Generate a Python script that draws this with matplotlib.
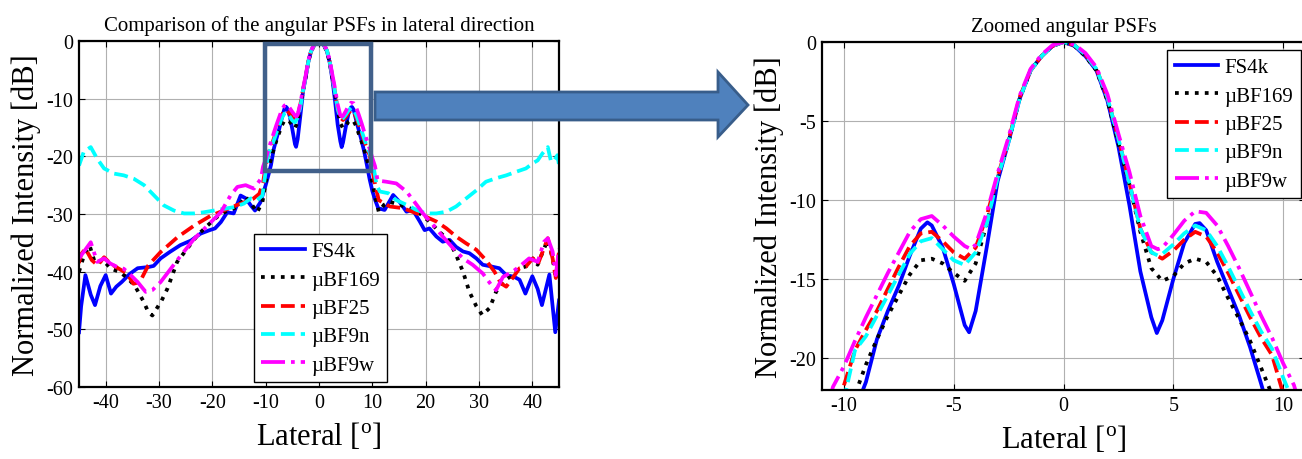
import matplotlib
matplotlib.use("Agg")
import matplotlib.pyplot as plt
from matplotlib.patches import Rectangle, Polygon

plt.rcParams['font.family'] = ['Liberation Serif', 'DejaVu Serif']
plt.rcParams['mathtext.fontset'] = 'custom'
plt.rcParams['mathtext.rm'] = 'Liberation Serif'
plt.rcParams['axes.unicode_minus'] = False

# ---------------- data (lateral angle [deg], normalized intensity [dB]) -------------
x_fs4k = [-45, -44.6, -43.8, -42.8, -42, -41, -40, -39, -38, -37, -35.5, -34, -32, -31,
          -29.7, -28, -26, -24, -22.2, -20.5, -19.5, -18.4, -17.2, -16, -14.7, -13.7,
          -12.8, -12, -11, -10.5, -10, -9.5,
          -9.0, -8.5, -8.0, -7.5, -7.0, -6.5, -6.2, -6.0, -5.5, -5.0, -4.5, -4.3, -4.0,
          -3.5, -3.0, -2.5, -2.0, -1.5, -1.0, -0.5, 0, 0.5, 1.0, 1.5, 2.0, 2.5, 3.0, 3.5,
          4.0, 4.25, 4.5, 5.0, 5.5, 6.0, 6.2, 6.5, 7.0, 7.5, 8.0, 8.5, 9.0, 9.5, 10, 10.5,
          11.1, 12.3, 13.9, 15.1, 16.4, 17.6, 18.9, 19.8, 20.7, 22, 23.2, 24.5, 25.7, 27,
          28.2, 29.5, 30.7, 32.3, 33.8, 35.1, 36.6, 37.6, 38.7, 40.0, 41.0, 41.8, 43.2,
          44.3, 45]
y_fs4k = [-50.5, -46, -40.6, -44, -45.8, -42.5, -40.6, -43.8, -42.6, -41.8, -40.4, -39.4,
          -39.2, -39.0, -37.7, -36.6, -35.4, -34.6, -33.4, -32.8, -32.5, -31.4, -29.7,
          -29.9, -26.8, -27.3, -28.5, -29.4, -28.0, -26.5, -25, -23.3,
          -21.5, -18.8, -17.0, -15.4, -13.5, -11.8, -11.4, -11.6, -13.0, -15.3, -17.9,
          -18.35, -17.0, -13.0, -8.8, -6.3, -3.6, -1.8, -0.9, -0.25, 0, -0.25, -0.9, -1.8,
          -3.7, -6.6, -10.3, -14.5, -17.4, -18.4, -17.6, -15.0, -12.7, -11.5, -11.45,
          -11.9, -13.9, -15.6, -17.3, -19.3, -21.6, -24, -26, -27.5,
          -29.0, -29.3, -26.7, -27.9, -29.6, -29.3, -31.3, -32.8, -32.5, -33.9, -34.8,
          -34.5, -35.7, -36.5, -36.8, -37.7, -38.8, -39.1, -39.4, -40.6, -40.9, -41.4,
          -43.8, -40.8, -43, -45.8, -40.5, -50.5, -45]

x_bf169 = [-45, -44, -43, -42, -40.5, -39, -37.5, -36, -34.5, -33, -32, -31.25, -30.5,
           -29.5, -28.4, -26.6, -24.7, -22.8, -20.9, -19.1, -17.2, -15.3, -13.75, -12.5,
           -11.6, -10.6, -10.0, -9.5,
           -9.0, -8.5, -8.0, -7.5, -7.0, -6.5, -6.0, -5.5, -5.0, -4.5, -4.0, -3.5, -3.0,
           -2.5, -2.0, -1.5, -1.0, -0.5, 0, 0.5, 1.0, 1.5, 2.0, 2.5, 3.0, 3.5, 4.0, 4.5,
           5.0, 5.5, 6.0, 6.5, 7.0, 7.5, 8.0, 8.5, 9.0, 9.5, 10.0, 10.5,
           11.2, 12.2, 13.3, 15.1, 17, 18.9, 20.7, 22.6, 24.5, 25.7, 27, 28.2, 29.5, 30.6,
           32, 33.2, 34.5, 36.3, 37.6, 38.8, 40.1, 41, 42.2, 42.9, 43.8, 44.4, 45]
y_bf169 = [-40, -37, -35.5, -38.5, -38, -39.5, -40, -41, -42.5, -45, -47, -47.6, -46.5,
           -45, -42.9, -38.3, -36, -33.7, -32, -30.5, -29.4, -28.8, -27, -28.5, -29.7,
           -27.9, -24.5, -22.3,
           -20.4, -18.8, -17.3, -16.0, -14.7, -13.8, -13.7, -14.0, -14.6, -15.1, -14.0,
           -11.5, -8.6, -6.3, -3.6, -1.8, -0.9, -0.25, 0, -0.25, -0.9, -1.8, -3.7, -6.4,
           -9.0, -12.0, -14.3, -15.1, -14.8, -14.0, -13.7, -13.9, -14.8, -16.2, -17.5,
           -18.9, -20.6, -22.3, -24.5, -26.8,
           -29.6, -28.4, -27.9, -28.4, -29, -29.9, -31.3, -33.1, -34.8, -37.1, -40, -43.5,
           -46, -47.5, -46.3, -43.5, -41.7, -40.6, -39.4, -39.1, -37.7, -38.8, -36,
           -34.5, -37.7, -41, -37]

x_bf25 = [-45, -44.6, -43.8, -42.6, -41.5, -40.3, -39.1, -37.5, -36, -34.8, -33.6, -32,
          -29.7, -26.5, -23.4, -20.3, -17.1, -14.7, -12.4, -11.2, -10.5,
          -10.0, -9.5, -9.0, -8.5, -8.0, -7.5, -7.0, -6.5, -6.0, -5.5, -5.0, -4.5, -4.0,
          -3.5, -3.0, -2.5, -2.0, -1.5, -1.0, -0.5, 0, 0.5, 1.0, 1.5, 2.0, 2.5, 3.0, 3.5,
          4.0, 4.5, 5.0, 5.5, 6.0, 6.5, 7.0, 7.5, 8.0, 8.5, 9.0, 9.5, 10.0, 10.5,
          11.2, 13.3, 15.8, 18.3, 20.1, 22, 23.9, 25.7, 27.6, 29.5, 31.3, 32.9, 34.1,
          35.1, 36.3, 37.6, 38.8, 40.1, 41, 42.2, 42.9, 43.8, 44.4, 45]
y_bf25 = [-38.5, -37, -36, -38, -38.9, -37.5, -38.6, -39.5, -40.3, -42.1, -41.8, -38.9,
          -36.6, -34, -32, -30.3, -29.1, -28.2, -27.4, -26.5, -24.6,
          -21.7, -19.5, -18.2, -17.0, -15.6, -14.2, -12.9, -12.1, -12.0, -12.6, -13.3,
          -13.7, -13.0, -11.0, -8.5, -6.2, -3.5, -1.8, -0.9, -0.25, 0, -0.2, -0.8, -1.7,
          -3.5, -6.1, -8.9, -11.8, -13.3, -13.7, -13.2, -12.5, -12.0, -12.3, -13.3,
          -14.6, -16.0, -17.4, -18.7, -19.8, -22.2, -24.8,
          -27.6, -28.7, -29, -29.9, -30.5, -31.3, -32.5, -33.9, -35.1, -36.2, -38, -40,
          -42, -42.6, -41.1, -39.4, -39.1, -37.7, -38.8, -35.9, -34.2, -37.7, -41.1,
          -36.5]

x_bf9n = [-45, -44.1, -42.8, -41.6, -40.3, -38.4, -36.6, -34.7, -32.8, -30.9, -29.1,
          -27.2, -25.3, -23.4, -21.6, -19.7, -17.8, -15.9, -14.1, -12.8, -11.6, -10.6,
          -10.0, -9.5, -9.0, -8.5, -8.0, -7.5, -7.0, -6.5, -6.0, -5.5, -5.0, -4.5, -4.0,
          -3.5, -3.0, -2.5, -2.0, -1.5, -1.0, -0.5, 0, 0.5, 1.0, 1.5, 2.0, 2.5, 3.0, 3.5,
          4.0, 4.3, 4.5, 5.0, 5.5, 6.0, 6.5, 7.0, 7.5, 8.0, 8.5, 9.0, 9.5, 10.0, 10.3,
          10.8, 11.4, 13, 14.5, 16.4, 18.3, 20.1, 22, 23.9, 25.7, 27.6, 29.5, 31.3, 33.2,
          35.1, 36.9, 38.8, 40.1, 41, 41.9, 42.9, 43.5, 44.1, 44.7, 45]
y_bf9n = [-21.6, -19.2, -18.4, -20.4, -22.1, -23, -23.3, -23.9, -25, -26.8, -28.5,
          -29.4, -29.9, -29.9, -29.7, -29.4, -29.1, -28.8, -28.2, -27.3, -27.6, -26.8,
          -22.6, -19.5, -18.6, -17.3, -16.0, -14.7, -13.4, -12.6, -12.4, -13.1, -13.8,
          -14.1, -13.3, -11.5, -8.6, -6.3, -3.6, -1.8, -0.9, -0.25, 0, -0.2, -0.8, -1.7,
          -3.5, -6.1, -8.9, -11.8, -13.3, -13.5, -13.4, -12.8, -12.1, -11.6, -11.9,
          -12.9, -14.2, -15.6, -17.0, -18.3, -19.4, -21.2, -22.2,
          -25.0, -26.1, -26.4, -27.6, -28.4, -29.3, -29.9, -29.9, -29.6, -28.7, -27.3,
          -25.9, -24.4, -23.8, -23.3, -22.7, -22.1, -21.2, -20.7, -19.5, -18.4, -20.9,
          -20.7, -19.8, -21.5]

x_bf9w = [-45, -42.8, -41.6, -40.3, -39.1, -37.8, -36.6, -35.3, -34, -32.5, -31.25,
          -29.7, -27.8, -25.9, -23.4, -20.9, -18.4, -16.6, -15.3, -13.75, -12.2, -10.9,
          -10.5, -10.0, -9.5, -9.0, -8.5, -8.0, -7.5, -7.0, -6.5, -6.0, -5.5, -5.0, -4.5,
          -4.2, -4.0, -3.5, -3.0, -2.5, -2.0, -1.5, -1.0, -0.5, 0, 0.5, 1.0, 1.5, 2.0,
          2.5, 3.0, 3.5, 4.0, 4.3, 4.5, 5.0, 5.5, 6.0, 6.5, 7.0, 7.5, 8.0, 8.5, 9.0, 9.5,
          10.0, 10.5,
          11.0, 12.6, 14.5, 16.4, 17.9, 19.5, 21.4, 23.2, 25.1, 27, 28.8, 30.7, 32.3,
          33.2, 34.5, 36.3, 37.6, 39.4, 41, 42.2, 42.9, 43.8, 44.4, 45]
y_bf9w = [-37.7, -34.9, -38.3, -37.7, -38.6, -39.2, -39.5, -40.6, -41.8, -43.5, -43.2,
          -41.8, -39.5, -37.2, -34.3, -32, -29.7, -26.8, -25.3, -25, -25.6, -23.9,
          -21.8, -20.5, -18.9, -17.4, -16.0, -14.6, -13.3, -12.0, -11.2, -11.0, -11.6,
          -12.3, -12.9, -13.1, -12.8, -10.8, -8.3, -6.0, -3.4, -1.7, -0.8, -0.2, 0,
          -0.15, -0.7, -1.6, -3.3, -5.8, -8.2, -11.0, -12.9, -13.1, -13.0, -12.2, -11.3,
          -10.7, -10.8, -11.6, -12.9, -14.3, -15.8, -17.3, -18.7, -20.3, -21.7,
          -24.2, -24.4, -24.7, -26.1, -27.9, -29.9, -31.9, -33.9, -35.9, -37.7, -38.8,
          -40.3, -42.3, -43.2, -40.9, -40, -39.1, -37.7, -38.3, -34.8, -34.2, -36.5,
          -40.6, -36]

series_labels = ['FS4k', 'µBF169', 'µBF25', 'µBF9n', 'µBF9w']
left_xticks = [-40, -30, -20, -10, 0, 10, 20, 30, 40]
left_yticks = [0, -10, -20, -30, -40, -50, -60]
right_xticks = [-10, -5, 0, 5, 10]
right_yticks = [0, -5, -10, -15, -20]

# ---------------- styling ----------------
series = [(x_fs4k, y_fs4k), (x_bf169, y_bf169), (x_bf25, y_bf25),
          (x_bf9n, y_bf9n), (x_bf9w, y_bf9w)]
styles = [dict(color='#0000FF', linestyle='-'),
          dict(color='#000000', linestyle=':'),
          dict(color='#FF0000', linestyle='--'),
          dict(color='#00FFFF', linestyle='--'),
          dict(color='#FF00FF', linestyle='-.')]
LW = 2.7

W, H = 1302, 460
fig = plt.figure(figsize=(W / 100, H / 100), dpi=100)

def px_ax(l, t, r, b):
    return [l / W, 1 - b / H, (r - l) / W, (b - t) / H]

ax1 = fig.add_axes(px_ax(79, 42, 559, 388))
ax2 = fig.add_axes(px_ax(822, 43, 1305, 391))

def style_axes(ax, xt, yt, xlim, ylim, title):
    for (xs, ys), st, lab in zip(series, styles, series_labels):
        ax.plot(xs, ys, lw=LW, label=lab, **st)
    ax.set_xlim(*xlim)
    ax.set_ylim(*ylim)
    ax.set_xticks(xt)
    ax.set_yticks(yt)
    ax.grid(True, color='#b0b0b0', lw=0.8)
    ax.set_axisbelow(True)
    ax.tick_params(direction='in', top=True, right=True, length=4, width=0.8,
                   labelsize=14.5, pad=4)
    for s in ax.spines.values():
        s.set_linewidth(1.6)
    ax.set_title(title, fontsize=15, pad=8)
    ax.set_xlabel(r'Lateral [$^\mathregular{o}$]', fontsize=22, labelpad=6)
    ax.set_ylabel('Normalized Intensity [dB]', fontsize=22, labelpad=4)

style_axes(ax1, left_xticks, left_yticks, (-45, 45), (-60, 0),
           'Comparison of the angular PSFs in lateral direction')
style_axes(ax2, right_xticks, right_yticks, (-11, 11), (-22, 0),
           'Zoomed angular PSFs')

leg_kw = dict(fontsize=15, frameon=True, fancybox=False, framealpha=1,
              edgecolor='black', handlelength=2.1, handletextpad=0.3,
              labelspacing=0.42, borderpad=0.35, borderaxespad=0)
l1 = ax1.legend(loc='lower left', bbox_to_anchor=(0.364, 0.015), **leg_kw)
l2 = ax2.legend(loc='upper right', bbox_to_anchor=(0.991, 0.976), **leg_kw)
for lg in (l1, l2):
    lg.get_frame().set_linewidth(1.0)

# zoom box in left axes
box_col = '#41608A'
ax1.add_patch(Rectangle((-10.2, -22.6), 20.0, 22.0, fill=False, edgecolor=box_col,
                        lw=3.2, zorder=10, clip_on=False))

# block arrow (figure pixels)
shaft_l, shaft_r, shaft_t, shaft_b = 375, 718, 93, 121
head_t, head_b, tip_x, tip_y = 73, 138, 748, 106
verts = [(shaft_l, shaft_t), (shaft_r, shaft_t), (shaft_r, head_t), (tip_x, tip_y),
         (shaft_r, head_b), (shaft_r, shaft_b), (shaft_l, shaft_b)]
verts = [(vx / W, 1 - vy / H) for vx, vy in verts]
fig.patches.append(Polygon(verts, closed=True, facecolor='#4F81BD', edgecolor='#385D8A',
                           lw=2, transform=fig.transFigure, zorder=20))

fig.savefig('out.png', dpi=100)
